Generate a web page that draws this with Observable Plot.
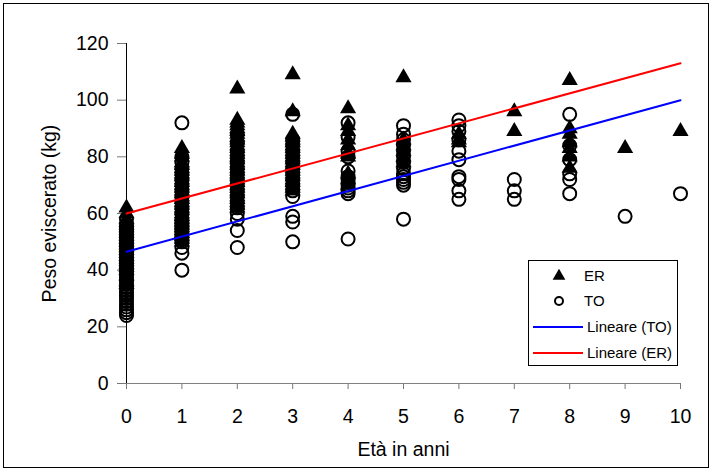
<!DOCTYPE html>
<html><head><meta charset="utf-8">
<script src="https://cdn.jsdelivr.net/npm/d3@7"></script>
<script src="https://cdn.jsdelivr.net/npm/@observablehq/plot@0.6"></script>
<style>
body{margin:0;background:#fff;font-family:"Liberation Sans",Arial,sans-serif;}
#wrap{position:relative;width:712px;height:470px;overflow:hidden;}
#border{position:absolute;left:3px;top:3px;width:706px;height:465px;border:1px solid #000;box-sizing:border-box;pointer-events:none;}
#legend{position:absolute;left:528px;top:260px;width:150px;height:106px;border:1px solid #000;box-sizing:border-box;background:#fff;}
#legend svg{position:absolute;left:-1px;top:-1px;}
</style></head><body>
<div id="wrap"><div id="chart"></div><div id="legend"></div><div id="border"></div></div>
<script>
// Ages (x) and weights (y) per age
const ages = [0, 1, 2, 3, 4, 5, 6, 7, 8, 9, 10];
const erWeights = [
  [62, 60, 58, 57, 56, 55, 54, 53, 52, 51, 50, 49, 48, 47, 46, 45, 44, 43, 42, 41, 40, 38, 36, 35],
  [83, 81, 80, 78, 77, 76, 75, 74, 73, 72, 71, 70, 69, 68, 67, 66, 65, 64, 63, 62, 61, 60, 59, 58, 57, 56, 55, 54, 53, 52, 51, 50],
  [104, 93, 92, 91, 90, 89, 88, 87, 86, 85, 84, 83, 82, 81, 80, 79, 78, 77, 76, 75, 74, 73, 72, 71, 70, 69, 68, 67, 66, 65, 64, 63, 62],
  [109, 96, 88, 87, 86, 85, 84, 83, 82, 81, 80, 79, 78, 77, 76, 75, 74, 73, 72, 71, 70, 69, 68],
  [97, 91, 89, 86, 84, 81, 80, 74, 72, 70],
  [108, 86, 84, 82, 80, 78],
  [88, 86, 85],
  [96, 89],
  [107, 90, 88, 85, 83, 80, 76],
  [83],
  [89]
];
const toWeights = [
  [58, 56, 55, 54, 53, 52, 51, 50, 49, 48, 47, 46, 45, 44, 43, 42, 41, 40, 39, 38, 37, 36, 35, 34, 33, 32, 31, 30, 29, 28, 27, 26, 25, 24],
  [92, 80, 78, 76, 74, 72, 70, 68, 66, 64, 62, 60, 58, 57, 56, 55, 54, 53, 52, 51, 50, 48, 46, 40],
  [88, 85, 82, 80, 78, 76, 74, 72, 70, 68, 66, 64, 62, 60, 58, 54, 48],
  [95, 86, 84, 82, 80, 78, 76, 74, 72, 70, 68, 66, 59, 57, 50],
  [92, 87, 82, 80, 75, 73, 72, 71, 70, 69, 68, 67, 51],
  [91, 88, 86, 84, 82, 80, 78, 76, 74, 73, 72, 71, 70, 58],
  [93, 91, 89, 86, 82, 79, 73, 72, 68, 65],
  [72, 68, 65],
  [95, 84, 79, 74, 72, 67],
  [59],
  [67]
];
// Linear trendlines: value at age 0 and age 10
const fitAges = [0, 10];
const fitTO = [46.5, 100];
const fitER = [60, 113];
const yTicks = [0, 20, 40, 60, 80, 100, 120];
const xTicks = [0, 1, 2, 3, 4, 5, 6, 7, 8, 9, 10];
const legendLabels = ["ER", "TO", "Lineare (TO)", "Lineare (ER)"];

const er = ages.flatMap((a, i) => erWeights[i].map(w => ({age: a, w})));
const to = ages.flatMap((a, i) => toWeights[i].map(w => ({age: a, w})));
const lineTO = fitAges.map((a, i) => ({age: a, w: fitTO[i]}));
const lineER = fitAges.map((a, i) => ({age: a, w: fitER[i]}));

const chart = Plot.plot({
  width: 712, height: 470,
  marginLeft: 126, marginRight: 32, marginTop: 43, marginBottom: 87,
  style: {fontFamily: "'Liberation Sans', Arial, sans-serif", fontSize: "19.5px", color: "#000", background: "transparent"},
  x: {domain: [0, 10]},
  y: {domain: [0, 120]},
  marks: [
    Plot.axisX({ticks: xTicks, tickSize: 6, tickPadding: 20, stroke: "#777", label: "Età in anni", labelAnchor: "center", labelOffset: 72, labelArrow: "none"}),
    Plot.axisY({ticks: yTicks, tickSize: 9, tickPadding: 9, stroke: "#777", label: "Peso eviscerato (kg)", labelAnchor: "center", labelOffset: 84, labelArrow: "none"}),
    Plot.ruleY([0], {stroke: "#808080", strokeWidth: 1}),
    Plot.ruleX([0], {stroke: "#000", strokeWidth: 1}),
    Plot.dot(er, {x: "age", y: "w", symbol: "triangle", r: 6, fill: "#000", stroke: "none"}),
    Plot.dot(to, {x: "age", y: "w", symbol: "circle", r: 6.5, fill: "none", stroke: "#000", strokeWidth: 2}),
    Plot.line(lineTO, {x: "age", y: "w", stroke: "#0000ff", strokeWidth: 2}),
    Plot.line(lineER, {x: "age", y: "w", stroke: "#ff0000", strokeWidth: 2})
  ]
});
document.getElementById("chart").appendChild(chart);

// Legend
const lg = d3.select("#legend").append("svg").attr("width", 150).attr("height", 106)
  .style("font-family", "'Liberation Sans', Arial, sans-serif").style("font-size", "15px");
const rowY = [16, 41, 67, 93];
lg.append("path").attr("d", d3.symbol(d3.symbolTriangle, 70)()).attr("transform", `translate(31,${rowY[0]})`).attr("fill", "#000");
lg.append("circle").attr("cx", 31).attr("cy", rowY[1]).attr("r", 4).attr("fill", "none").attr("stroke", "#000").attr("stroke-width", 2);
lg.append("line").attr("x1", 5).attr("x2", 55).attr("y1", rowY[2]).attr("y2", rowY[2]).attr("stroke", "#0000ff").attr("stroke-width", 2);
lg.append("line").attr("x1", 5).attr("x2", 55).attr("y1", rowY[3]).attr("y2", rowY[3]).attr("stroke", "#ff0000").attr("stroke-width", 2);
legendLabels.forEach((t, i) => {
  lg.append("text").attr("x", i < 2 ? 56 : 59).attr("y", rowY[i]).attr("dy", "0.36em").text(t);
});
</script>
</body></html>
